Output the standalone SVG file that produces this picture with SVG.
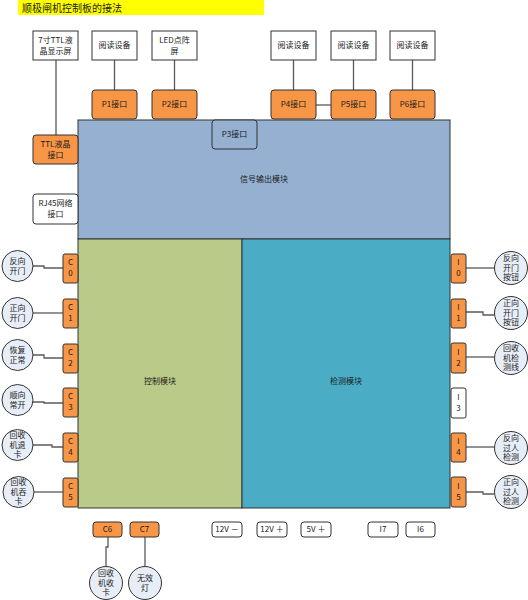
<svg xmlns="http://www.w3.org/2000/svg" width="528" height="600" viewBox="0 0 528 600">
<style>
text{font-family:"Noto Sans CJK SC","Liberation Sans",sans-serif;font-size:8px;fill:#1a1a1a;text-anchor:middle}
.w{fill:#fff;stroke:#333;stroke-width:1}
.o{fill:#F79646;stroke:#333;stroke-width:1}
.c{fill:#E8EEF7;stroke:#333;stroke-width:1}
.ln{fill:none;stroke:#595959;stroke-width:1.3}
.t{font-size:10px;text-anchor:start}
</style>
<rect width="528" height="600" fill="#fff"/>
<g id="title"><rect x="18" y="0" width="246" height="15" fill="#FFFF00"/><text class="t" x="22" y="12">顺极闸机控制板的接法</text></g>

<g id="connectors">
<path class="ln" d="M56 60V135"/>
<path class="ln" d="M114.5 60V90"/>
<path class="ln" d="M174.5 60V90"/>
<path class="ln" d="M293.5 60V90"/>
<path class="ln" d="M353.5 60V90"/>
<path class="ln" d="M412.5 60V90"/>
<path class="ln" d="M316 105H331"/>
<path class="ln" d="M33 266H44V268H63"/>
<path class="ln" d="M33 313H63"/>
<path class="ln" d="M33 355H44V358H63"/>
<path class="ln" d="M33 402H44V403H63"/>
<path class="ln" d="M33 445H52V447H63"/>
<path class="ln" d="M34 492H63"/>
<path class="ln" d="M466 268H494"/>
<path class="ln" d="M466 312H483V315H494"/>
<path class="ln" d="M466 357H494"/>
<path class="ln" d="M466 447H494"/>
<path class="ln" d="M466 492H483V494H494"/>
<path class="ln" d="M108 537V547H106V566"/>
<path class="ln" d="M145 537V566"/>
</g>

<g id="signal-module"><rect x="78" y="120" width="372" height="119" fill="#95B0D0" stroke="#333" stroke-width="1"/><text x="264" y="182">信号输出模块</text></g>
<g id="control-module"><rect x="78" y="239" width="164" height="269" fill="#B9CA89" stroke="#333" stroke-width="1"/><text x="160" y="384">控制模块</text></g>
<g id="detect-module"><rect x="242" y="239" width="208" height="269" fill="#4AADC5" stroke="#333" stroke-width="1"/><text x="346" y="384">检测模块</text></g>

<g id="lcd"><rect class="w" x="33" y="31" width="45" height="29"/><text x="55.5" y="43">7寸TTL液</text><text x="55.5" y="54">晶显示屏</text></g>
<g id="reader1"><rect class="w" x="92" y="31" width="45" height="29"/><text x="114.5" y="48">阅读设备</text></g>
<g id="led"><rect class="w" x="152" y="31" width="45" height="29"/><text x="174.5" y="43">LED点阵</text><text x="174.5" y="54">屏</text></g>
<g id="reader4"><rect class="w" x="271" y="31" width="45" height="29"/><text x="293.5" y="48">阅读设备</text></g>
<g id="reader5"><rect class="w" x="331" y="31" width="45" height="29"/><text x="353.5" y="48">阅读设备</text></g>
<g id="reader6"><rect class="w" x="390" y="31" width="45" height="29"/><text x="412.5" y="48">阅读设备</text></g>

<g id="p1"><rect class="o" x="92" y="90" width="45" height="29" rx="3"/><text x="114.5" y="107">P1接口</text></g>
<g id="p2"><rect class="o" x="152" y="90" width="45" height="29" rx="3"/><text x="174.5" y="107">P2接口</text></g>
<g id="p4"><rect class="o" x="271" y="90" width="45" height="29" rx="3"/><text x="293.5" y="107">P4接口</text></g>
<g id="p5"><rect class="o" x="331" y="90" width="45" height="29" rx="3"/><text x="353.5" y="107">P5接口</text></g>
<g id="p6"><rect class="o" x="390" y="90" width="45" height="29" rx="3"/><text x="412.5" y="107">P6接口</text></g>
<g id="p3"><rect x="212" y="120" width="45" height="29" rx="3" fill="#95B0D0" stroke="#333" stroke-width="1"/><text x="234.5" y="137">P3接口</text></g>

<g id="ttl"><rect class="o" x="33" y="135" width="45" height="29" rx="3"/><text x="55.5" y="147">TTL液晶</text><text x="55.5" y="158">接口</text></g>
<g id="rj45"><rect class="w" x="33" y="194" width="45" height="30" rx="3"/><text x="55.5" y="206">RJ45网络</text><text x="55.5" y="217">接口</text></g>

<g id="c0"><rect class="o" x="63" y="254" width="15" height="29" rx="2"/><text x="70.5" y="265">C</text><text x="70.5" y="276">0</text></g>
<g id="c1"><rect class="o" x="63" y="299" width="15" height="29" rx="2"/><text x="70.5" y="310">C</text><text x="70.5" y="321">1</text></g>
<g id="c2"><rect class="o" x="63" y="344" width="15" height="29" rx="2"/><text x="70.5" y="355">C</text><text x="70.5" y="366">2</text></g>
<g id="c3"><rect class="o" x="63" y="388" width="15" height="29" rx="2"/><text x="70.5" y="399">C</text><text x="70.5" y="410">3</text></g>
<g id="c4"><rect class="o" x="63" y="433" width="15" height="29" rx="2"/><text x="70.5" y="444">C</text><text x="70.5" y="455">4</text></g>
<g id="c5"><rect class="o" x="63" y="478" width="15" height="29" rx="2"/><text x="70.5" y="489">C</text><text x="70.5" y="500">5</text></g>

<g id="cir-c0"><circle class="c" cx="17.5" cy="266" r="15.5"/><text x="17.5" y="264">反向</text><text x="17.5" y="274">开门</text></g>
<g id="cir-c1"><circle class="c" cx="17.5" cy="313" r="15.5"/><text x="17.5" y="311">正向</text><text x="17.5" y="321">开门</text></g>
<g id="cir-c2"><circle class="c" cx="17.5" cy="355" r="15.5"/><text x="17.5" y="353">恢复</text><text x="17.5" y="363">正常</text></g>
<g id="cir-c3"><circle class="c" cx="17.5" cy="400" r="15.5"/><text x="17.5" y="398">顺向</text><text x="17.5" y="408">常开</text></g>
<g id="cir-c4"><circle class="c" cx="17.5" cy="445" r="15.5"/><text x="17.5" y="438">回收</text><text x="17.5" y="447.5">机退</text><text x="17.5" y="457">卡</text></g>
<g id="cir-c5"><circle class="c" cx="18.5" cy="492" r="15.5"/><text x="18.5" y="485">回收</text><text x="18.5" y="494.5">机吞</text><text x="18.5" y="504">卡</text></g>

<g id="i0"><rect class="o" x="451" y="254" width="15" height="29" rx="2"/><text x="458.5" y="265">I</text><text x="458.5" y="276">0</text></g>
<g id="i1"><rect class="o" x="451" y="299" width="15" height="29" rx="2"/><text x="458.5" y="310">I</text><text x="458.5" y="321">1</text></g>
<g id="i2"><rect class="o" x="451" y="343" width="15" height="30" rx="2"/><text x="458.5" y="355">I</text><text x="458.5" y="366">2</text></g>
<g id="i3"><rect class="w" x="451" y="388" width="15" height="30" rx="2"/><text x="458.5" y="400">I</text><text x="458.5" y="411">3</text></g>
<g id="i4"><rect class="o" x="451" y="433" width="15" height="29" rx="2"/><text x="458.5" y="444">I</text><text x="458.5" y="455">4</text></g>
<g id="i5"><rect class="o" x="451" y="477" width="15" height="30" rx="2"/><text x="458.5" y="489">I</text><text x="458.5" y="500">5</text></g>

<g id="cir-i0"><circle class="c" cx="511" cy="268" r="16.5"/><text x="511" y="261">反向</text><text x="511" y="270.5">开门</text><text x="511" y="280">按钮</text></g>
<g id="cir-i1"><circle class="c" cx="511" cy="313" r="16.5"/><text x="511" y="306">正向</text><text x="511" y="315.5">开门</text><text x="511" y="325">按钮</text></g>
<g id="cir-i2"><circle class="c" cx="511" cy="358" r="16.5"/><text x="511" y="351">回收</text><text x="511" y="360.5">机检</text><text x="511" y="370">测线</text></g>
<g id="cir-i4"><circle class="c" cx="511" cy="448" r="16.5"/><text x="511" y="441">反向</text><text x="511" y="450.5">过人</text><text x="511" y="460">检测</text></g>
<g id="cir-i5"><circle class="c" cx="511" cy="492" r="16.5"/><text x="511" y="485">正向</text><text x="511" y="494.5">过人</text><text x="511" y="504">检测</text></g>

<g id="c6"><rect class="o" x="93" y="522" width="29" height="15" rx="3"/><text x="107.5" y="532">C6</text></g>
<g id="c7"><rect class="o" x="130" y="522" width="29" height="15" rx="3"/><text x="144.5" y="532">C7</text></g>
<g id="v12m"><rect class="w" x="212" y="522" width="30" height="15" rx="3"/><text x="227" y="532">12V －</text></g>
<g id="v12p"><rect class="w" x="257" y="522" width="30" height="15" rx="3"/><text x="272" y="532">12V ＋</text></g>
<g id="v5p"><rect class="w" x="301" y="522" width="30" height="15" rx="3"/><text x="316" y="532">5V ＋</text></g>
<g id="i7"><rect class="w" x="368" y="522" width="30" height="15" rx="3"/><text x="383" y="532">I7</text></g>
<g id="i6"><rect class="w" x="406" y="522" width="29" height="15" rx="3"/><text x="420.5" y="532">I6</text></g>

<g id="cir-c6"><circle class="c" cx="106" cy="583" r="16.5"/><text x="106" y="576">回收</text><text x="106" y="585.5">机收</text><text x="106" y="595">卡</text></g>
<g id="cir-c7"><circle class="c" cx="145" cy="583" r="16.5"/><text x="145" y="581">无效</text><text x="145" y="591">灯</text></g>
</svg>
